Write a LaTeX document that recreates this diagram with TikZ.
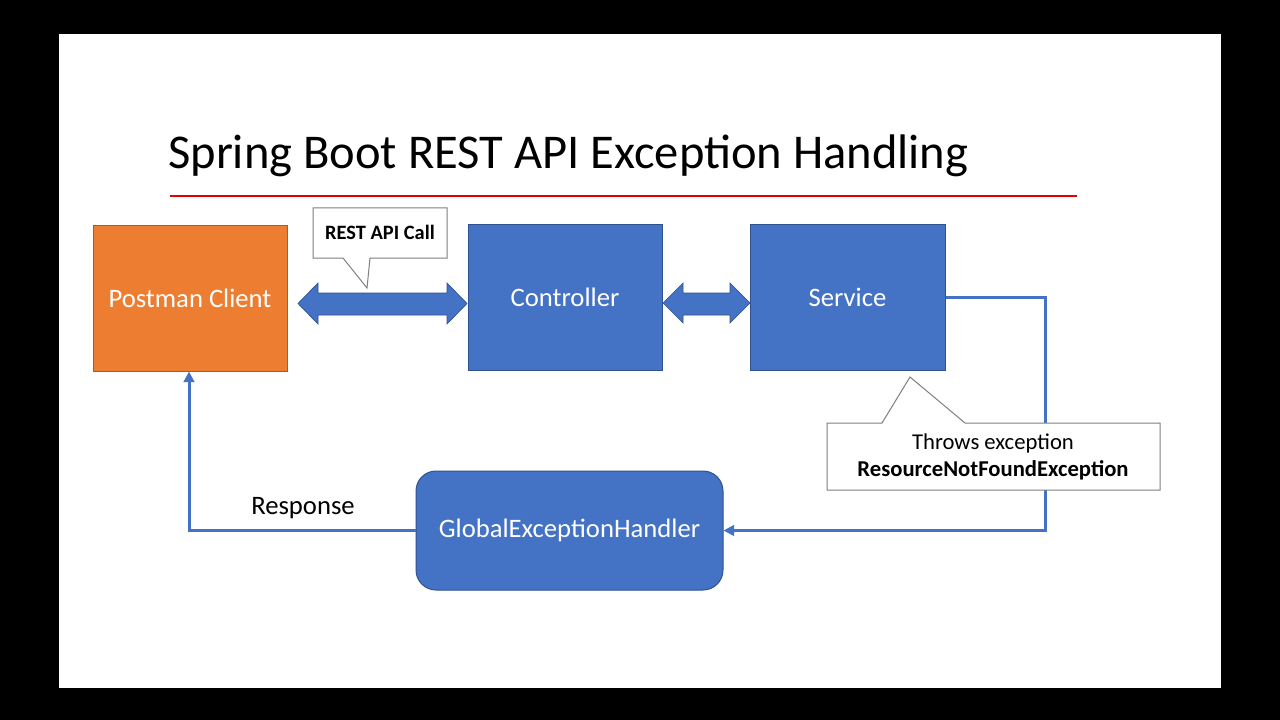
\documentclass[tikz,border=0pt]{standalone}
\usepackage{fontspec}
\setmainfont{Carlito}
\usetikzlibrary{arrows.meta,calc}
\definecolor{mblue}{HTML}{4472C4}
\definecolor{mblueborder}{HTML}{2F528F}
\definecolor{morange}{HTML}{ED7D31}
\definecolor{morangeborder}{HTML}{AE5A21}
\definecolor{mred}{HTML}{E00000}
\definecolor{mgray}{HTML}{7F7F7F}
\begin{document}
\begin{tikzpicture}[x=0.75pt,y=-0.75pt,
  bluebox/.style={draw=mblueborder,line width=0.75pt,fill=mblue,text=white,inner sep=0pt,
    font=\fontsize{20}{24}\selectfont},
  orangebox/.style={draw=morangeborder,line width=0.75pt,fill=morange,text=white,inner sep=0pt,
    font=\fontsize{20}{24}\selectfont},
  blockarrow/.style={draw=mblueborder,line width=0.5pt,fill=mblue},
  callout/.style={draw=mgray,line width=0.75pt,fill=white},
  conn/.style={draw=mblue,line width=2.25pt,-{Triangle[length=8pt,width=8pt]}},
]
\useasboundingbox (0,0) rectangle (1280,720);
\fill[black] (0,0) rectangle (1280,720);
\fill[white] (59,34) rectangle (1221,688);

% title
\node[anchor=base west,inner sep=0pt,font=\fontsize{36.4}{42}\selectfont] (title) at (168,169) {Spring Boot REST API Exception Handling};
\coordinate (rl) at (170,196);
\coordinate (rr) at (1077,196);
\draw[mred,line width=2pt] (rl) -- (rr);

% boxes
\node[orangebox,minimum width=194*0.75pt,minimum height=145*0.75pt] (pc) at (190,298.5) {Postman Client};
\node[bluebox,minimum width=194*0.75pt,minimum height=145*0.75pt] (ctl) at (565,297.5) {Controller};
\node[bluebox,minimum width=195*0.75pt,minimum height=145*0.75pt] (svc) at (847.5,297.5) {Service};
\node[bluebox,rounded corners=15pt,minimum width=307*0.75pt,minimum height=119*0.75pt] (geh) at (569.5,530.5) {GlobalExceptionHandler};

% block arrows
\draw[blockarrow] (298,303.5) -- (318,283) -- (318,293) -- (447,293) -- (447,283) -- (467,303.5)
  -- (447,324) -- (447,315) -- (318,315) -- (318,324) -- cycle;
\draw[blockarrow] (663,303) -- (683,283) -- (683,293) -- (730,293) -- (730,283) -- (750,303)
  -- (730,323) -- (730,315) -- (683,315) -- (683,323) -- cycle;

% connectors
\coordinate (c1) at (1045,297.5);
\coordinate (c2) at (1045,530.5);
\draw[conn] (svc.east) -- (c1) -- (c2) -- (geh.east);
\coordinate (c3) at (189,530.5);
\draw[conn] (geh.west) -- (c3) -- (c3 |- pc.south);

\node[anchor=base,inner sep=0pt,font=\fontsize{20}{24}\selectfont] (resp) at (303,514) {Response};

% callouts
\draw[callout] (313,208) -- (447,208) -- (447,258) -- (370,258) -- (367,288) -- (343,258) -- (313,258) -- cycle;
\node[inner sep=0pt,font=\bfseries\fontsize{15.3}{18}\selectfont] (rest) at (380,232) {REST API Call};

\draw[callout] (827,423) -- (882,423) -- (910,377) -- (965,423) -- (1160,423) -- (1160,490) -- (827,490) -- cycle;
\node[anchor=base,inner sep=0pt,font=\fontsize{17}{20}\selectfont] (thr) at (993,449) {Throws exception};
\node[anchor=base,inner sep=0pt,font=\bfseries\fontsize{17}{20}\selectfont] (rnf) at (993,476) {ResourceNotFoundException};
\end{tikzpicture}
\end{document}
